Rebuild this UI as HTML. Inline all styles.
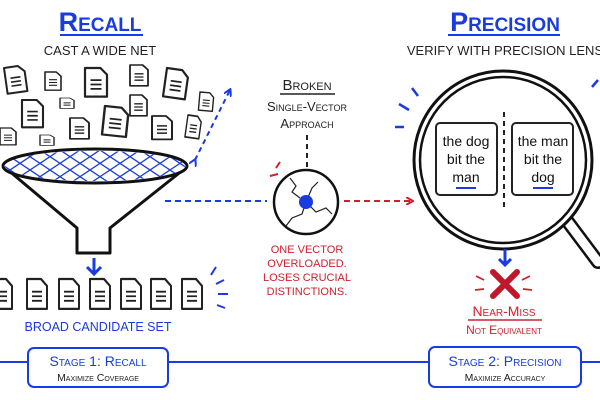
<!DOCTYPE html>
<html><head><style>
html,body{margin:0;padding:0;background:#fff;}
svg{display:block;font-family:"Liberation Sans",sans-serif;}
.sc{font-variant:small-caps;}
</style></head><body>
<svg width="600" height="400" viewBox="0 0 600 400">
<defs>
<g id="doc"><path d="M0 0 H14 L20 6 V26 H0 Z" fill="#fff" stroke="#222" stroke-width="2" stroke-linejoin="round"/><path d="M5 11H15M5 15H15M5 19H15" stroke="#222" stroke-width="1.6"/></g>
<marker id="ab" markerWidth="8" markerHeight="8" refX="6" refY="4" orient="auto" markerUnits="userSpaceOnUse"><path d="M0 0 L7 4 L0 8" fill="none" stroke="#1a3be0" stroke-width="2"/></marker>
<marker id="ar" markerWidth="8" markerHeight="8" refX="6" refY="4" orient="auto" markerUnits="userSpaceOnUse"><path d="M0 0 L7 4 L0 8" fill="none" stroke="#d0202e" stroke-width="2"/></marker>
<clipPath id="ell"><ellipse cx="95" cy="166" rx="90" ry="15"/></clipPath>
</defs>

<!-- Titles -->
<text x="100" y="31" text-anchor="middle" class="sc" font-size="27" fill="#1a3be0" font-weight="bold">Recall</text>
<line x1="60" y1="35" x2="143" y2="35" stroke="#1a3be0" stroke-width="2"/>
<text x="100" y="55" text-anchor="middle" font-size="13" fill="#222">CAST A WIDE NET</text>
<text x="505" y="31" text-anchor="middle" class="sc" font-size="27" fill="#1a3be0" font-weight="bold">Precision</text>
<line x1="448" y1="35" x2="560" y2="35" stroke="#1a3be0" stroke-width="2"/>
<text x="505" y="55" text-anchor="middle" font-size="13" fill="#222">VERIFY WITH PRECISION LENS</text>

<!-- scattered docs -->
<use href="#doc" transform="translate(4,68) rotate(-8)"/>
<use href="#doc" transform="translate(45,72) scale(0.8,0.7)"/>
<use href="#doc" transform="translate(85,68) scale(1.1)"/>
<use href="#doc" transform="translate(130,65) scale(0.9,0.8)"/>
<use href="#doc" transform="translate(167,68) rotate(8) scale(1.1)"/>
<use href="#doc" transform="translate(200,92) rotate(5) scale(0.7)"/>
<use href="#doc" transform="translate(22,100) scale(1.05)"/>
<use href="#doc" transform="translate(60,98) scale(0.7,0.4)"/>
<use href="#doc" transform="translate(70,118) scale(0.95,0.8)"/>
<use href="#doc" transform="translate(105,106) rotate(6) scale(1.2,1.1)"/>
<use href="#doc" transform="translate(130,95) scale(0.85,0.8)"/>
<use href="#doc" transform="translate(152,116) scale(1,0.9)"/>
<use href="#doc" transform="translate(188,115) rotate(8) scale(0.7,0.85)"/>
<use href="#doc" transform="translate(0,128) scale(0.8,0.65)"/>
<use href="#doc" transform="translate(40,135) scale(0.7,0.4)"/>

<!-- blue dashed double arrow -->
<line x1="195" y1="160" x2="230" y2="90" stroke="#1a3be0" stroke-width="2" stroke-dasharray="5 4" marker-end="url(#ab)" marker-start="url(#ab)"/>

<!-- funnel -->
<path d="M8 170 L77 228 V253 H110 V228 L183 170" fill="#fff" stroke="#111" stroke-width="3" stroke-linejoin="round"/>
<ellipse cx="95" cy="166" rx="92" ry="17" fill="#fff" stroke="#111" stroke-width="3"/>
<g clip-path="url(#ell)" stroke="#1a3be0" stroke-width="1.3">
<path d="M-20 150 L40 190 M0 150 L60 190 M20 150 L80 190 M40 150 L100 190 M60 150 L120 190 M80 150 L140 190 M100 150 L160 190 M120 150 L180 190 M140 150 L200 190 M160 150 L220 190 M-40 150 L20 190"/>
<path d="M20 150 L-40 190 M40 150 L-20 190 M60 150 L0 190 M80 150 L20 190 M100 150 L40 190 M120 150 L60 190 M140 150 L80 190 M160 150 L100 190 M180 150 L120 190 M200 150 L140 190 M220 150 L160 190"/>
</g>
<!-- down arrow -->
<line x1="94" y1="258" x2="94" y2="272" stroke="#1a3be0" stroke-width="3"/>
<path d="M87 267 L94 274 L101 267" fill="none" stroke="#1a3be0" stroke-width="3"/>
<!-- bottom docs -->
<use href="#doc" transform="translate(-8,279) scale(1,1.15)"/>
<use href="#doc" transform="translate(27,279) scale(1,1.15)"/>
<use href="#doc" transform="translate(59,279) scale(1,1.15)"/>
<use href="#doc" transform="translate(90,279) scale(1,1.15)"/>
<use href="#doc" transform="translate(121,279) scale(1,1.15)"/>
<use href="#doc" transform="translate(151,279) scale(1,1.15)"/>
<use href="#doc" transform="translate(182,279) scale(1,1.15)"/>
<path d="M211 275 L216 267 M216 284 L224 280 M218 294 L228 294 M217 305 L225 308" stroke="#1a3be0" stroke-width="2"/>
<text x="98" y="331" text-anchor="middle" font-size="12.5" fill="#1a3be0">BROAD CANDIDATE SET</text>

<!-- middle -->
<text x="307" y="90" text-anchor="middle" class="sc" font-size="15" fill="#222">Broken</text>
<line x1="280" y1="94" x2="335" y2="94" stroke="#222" stroke-width="1.5"/>
<text x="307" y="111" text-anchor="middle" class="sc" font-size="13" fill="#222">Single-Vector</text>
<text x="307" y="128" text-anchor="middle" class="sc" font-size="13" fill="#222">Approach</text>
<line x1="307" y1="135" x2="307" y2="170" stroke="#222" stroke-width="2" stroke-dasharray="5 4"/>
<line x1="165" y1="201" x2="267" y2="201" stroke="#1a3be0" stroke-width="2" stroke-dasharray="6 4"/>
<circle cx="306" cy="202" r="32" fill="#fff" stroke="#111" stroke-width="2.5"/>
<path d="M290 178 L296 186 L292 192 L300 198 M306 202 L302 214 L292 218 L286 226 M306 202 L316 212 L326 208 L332 214 M306 202 L312 188 L318 182" fill="none" stroke="#222" stroke-width="1.2"/>
<circle cx="306" cy="202" r="7" fill="#1a3be0"/>
<path d="M276 168 L280 162 M270 176 L278 174" stroke="#d0202e" stroke-width="2"/>
<line x1="344" y1="201" x2="412" y2="201" stroke="#d0202e" stroke-width="2" stroke-dasharray="6 4" marker-end="url(#ar)"/>
<g font-size="11" fill="#d0202e" text-anchor="middle">
<text x="307" y="253">ONE VECTOR</text>
<text x="307" y="267">OVERLOADED.</text>
<text x="307" y="281">LOSES CRUCIAL</text>
<text x="307" y="295">DISTINCTIONS.</text>
</g>

<!-- magnifier -->
<path d="M568 222 L598 262" stroke="#111" stroke-width="14" stroke-linecap="round"/>
<path d="M568 222 L598 262" stroke="#fff" stroke-width="9" stroke-linecap="round"/>
<circle cx="503" cy="160" r="89" fill="#fff" stroke="#111" stroke-width="3"/>
<circle cx="503" cy="160" r="83" fill="none" stroke="#111" stroke-width="2.5"/>
<line x1="504" y1="112" x2="504" y2="208" stroke="#222" stroke-width="2" stroke-dasharray="5 4"/>
<rect x="436" y="123" width="61" height="72" rx="4" fill="#fff" stroke="#222" stroke-width="2"/>
<rect x="512" y="123" width="61" height="72" rx="4" fill="#fff" stroke="#222" stroke-width="2"/>
<g font-size="14" fill="#111" text-anchor="middle">
<text x="466" y="146">the dog</text><text x="466" y="164">bit the</text><text x="466" y="182">man</text>
<text x="543" y="146">the man</text><text x="543" y="164">bit the</text><text x="543" y="182">dog</text>
</g>
<line x1="456" y1="188" x2="476" y2="188" stroke="#1a3be0" stroke-width="2"/>
<line x1="533" y1="188" x2="553" y2="188" stroke="#1a3be0" stroke-width="2"/>
<path d="M412 88 L418 96 M399 104 L409 110 M395 127 L404 127 M592 87 L598 80" stroke="#1a3be0" stroke-width="2.5"/>
<!-- arrow + X -->
<line x1="505" y1="249" x2="505" y2="264" stroke="#1a3be0" stroke-width="3"/>
<path d="M499 259 L505 265 L511 259" fill="none" stroke="#1a3be0" stroke-width="3"/>
<path d="M493 272 L517 296 M517 272 L493 296" stroke="#c0182a" stroke-width="6" stroke-linecap="round"/>
<path d="M476 276 L484 280 M475 290 L484 289 M530 276 L522 280 M532 290 L523 289" stroke="#d0202e" stroke-width="1.8"/>
<text x="504" y="316" text-anchor="middle" class="sc" font-size="14" fill="#d0202e">Near-Miss</text>
<line x1="468" y1="320" x2="542" y2="320" stroke="#d0202e" stroke-width="1.5"/>
<text x="504" y="334" text-anchor="middle" class="sc" font-size="12" fill="#d0202e">Not Equivalent</text>

<!-- timeline -->
<line x1="0" y1="362" x2="600" y2="362" stroke="#1a3be0" stroke-width="2"/>
<rect x="28" y="348" width="140" height="39" rx="6" fill="#fff" stroke="#1a3be0" stroke-width="2"/>
<text x="98" y="366" text-anchor="middle" class="sc" font-size="14" fill="#1a3be0">Stage 1: Recall</text>
<text x="98" y="381" text-anchor="middle" class="sc" font-size="10.5" fill="#222">Maximize Coverage</text>
<rect x="429" y="347" width="152" height="40" rx="6" fill="#fff" stroke="#1a3be0" stroke-width="2"/>
<text x="505" y="366" text-anchor="middle" class="sc" font-size="14" fill="#1a3be0">Stage 2: Precision</text>
<text x="505" y="381" text-anchor="middle" class="sc" font-size="10.5" fill="#222">Maximize Accuracy</text>
</svg>
</body></html>
